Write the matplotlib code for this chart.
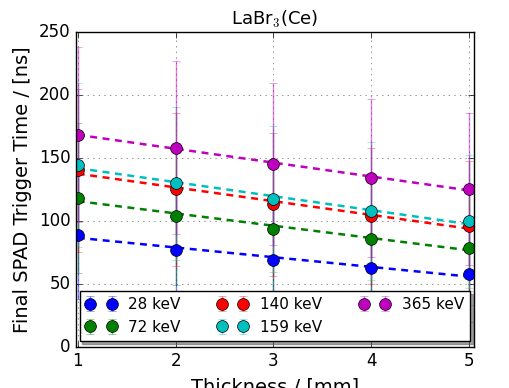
import numpy as np
import matplotlib
matplotlib.use("Agg")
import matplotlib.pyplot as plt

plt.style.use("classic")

# Dicke der Kristalle in mm
thickness = [1, 2, 3, 4, 5]

labels = ["28 keV", "72 keV", "140 keV", "159 keV", "365 keV"]
colors = ["b", "g", "r", "c", "m"]

# mittlere Trigger-Zeiten [ns]
t_28 = [89.0, 77.1, 69.2, 62.9, 57.6]
t_72 = [118.4, 103.9, 93.9, 85.8, 78.7]
t_140 = [140.0, 125.0, 113.2, 103.9, 96.0]
t_159 = [144.0, 129.7, 117.1, 107.6, 99.5]
t_365 = [168.5, 158.0, 145.1, 134.0, 125.4]

# Fehlerbalken [ns]
err_28 = [51.0, 47.0, 44.0, 41.0, 37.5]
err_72 = [59.6, 55.0, 51.0, 48.0, 45.5]
err_140 = [65.0, 60.6, 56.6, 53.8, 51.5]
err_159 = [65.0, 61.0, 57.8, 54.6, 52.7]
err_365 = [69.8, 68.5, 64.5, 62.4, 60.2]

werte = [t_28, t_72, t_140, t_159, t_365]
fehler = [err_28, err_72, err_140, err_159, err_365]

fig = plt.figure(figsize=(5.09, 3.88), dpi=100, facecolor="white")
ax = fig.add_axes([0.149, 0.106, 0.782, 0.812])

x = np.array(thickness, dtype=float)
for y, e, c, lab in zip(werte, fehler, colors, labels):
    eb = ax.errorbar(x, y, yerr=e, fmt="o", color=c, ecolor=c, markersize=8.5,
                     markeredgecolor="k", markeredgewidth=0.5, capsize=3,
                     elinewidth=1, label=lab)
    for cl in eb[1]:
        cl.set_alpha(0.5)
    for bl in eb[2]:
        bl.set_alpha(0.5)
    # lineare Anpassung
    p = np.polyfit(x, y, 1)
    ax.plot(x, np.polyval(p, x), color=c, linestyle="--", linewidth=1.8,
            dashes=(5, 4))

ax.set_xlim(0.98, 5.05)
ax.set_ylim(0, 250)
ax.set_xticks(thickness)
ax.set_yticks([0, 50, 100, 150, 200, 250])
ax.tick_params(labelsize=12)
ax.grid(True, color="0.5", linestyle=":", linewidth=0.6)
ax.set_axisbelow(True)

ax.set_title("LaBr$_3$(Ce)", fontsize=13)
ax.set_xlabel("Thickness / [mm]", fontsize=14)
ax.set_ylabel("Final SPAD Trigger Time / [ns]", fontsize=14)

leg = ax.legend(loc="lower center", ncol=3, numpoints=2, fontsize=11,
                shadow=True, fancybox=False, borderaxespad=0.4,
                columnspacing=2.4, handlelength=2.0)
leg.get_frame().set_edgecolor("k")

fig.savefig("out.png", dpi=100, facecolor="white")
